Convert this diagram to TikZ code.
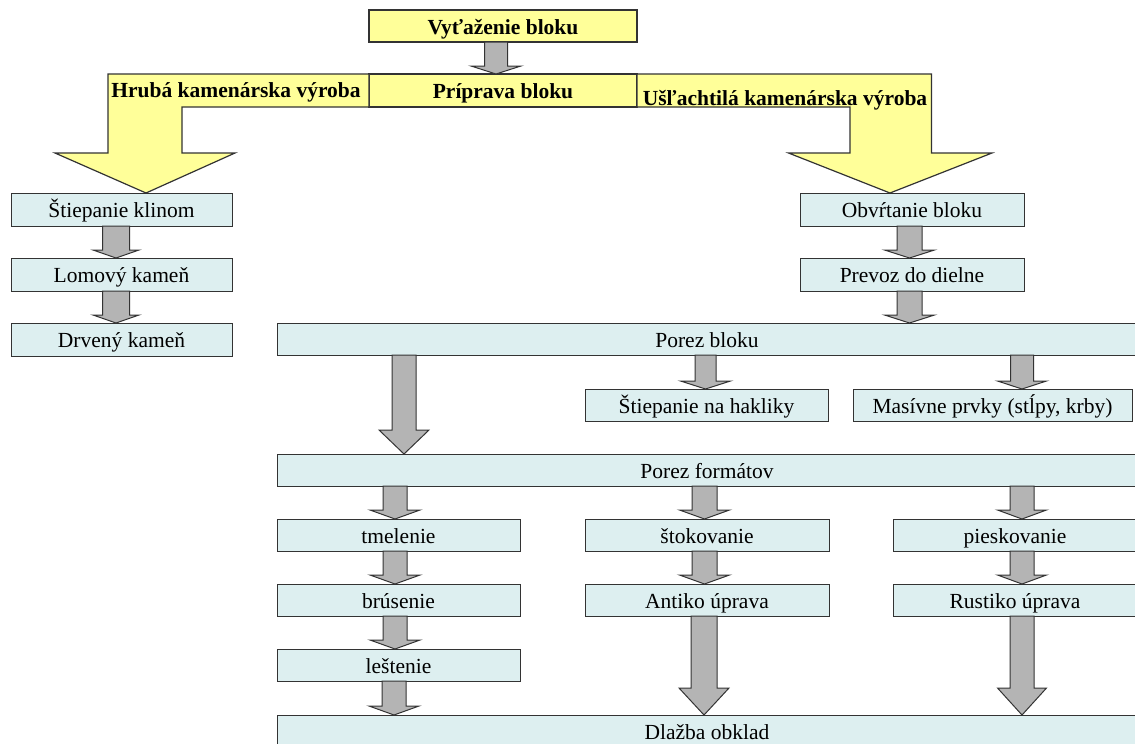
\documentclass[tikz,border=0pt]{standalone}
\usepackage{fontspec}
\setmainfont{Liberation Serif}
\usetikzlibrary{calc}
\definecolor{ylw}{HTML}{FFFF99}
\definecolor{cyn}{HTML}{DDEFF0}
\definecolor{arr}{HTML}{B4B4B4}
\definecolor{edge}{HTML}{333333}
\tikzset{
 ybox/.style={draw=edge, fill=ylw, line width=1.2pt, inner sep=0pt, outer sep=0pt, anchor=north west, text height=17pt, text depth=1pt, font=\fontsize{21.5}{24}\selectfont\bfseries},
 cbox/.style={draw=edge, fill=cyn, line width=1pt, inner sep=0pt, outer sep=0pt, anchor=north west, text height=17pt, text depth=1pt, font=\fontsize{21.5}{24}\selectfont},
 ylabel/.style={inner sep=0pt, text height=17pt, text depth=1pt, font=\fontsize{21.5}{24}\selectfont\bfseries},
 garrow/.style={draw=edge, fill=arr, line width=1pt, line join=miter},
 yarrow/.style={draw=edge, fill=ylw, line width=1.2pt, line join=miter},
}
\newcommand\cb[6]{\node[cbox, minimum width=#4pt, minimum height=#5pt] (#1) at (#2,#3) {#6};}
\newcommand\ga[6]{%
 \draw[garrow] let \p1=(#1.south), \p2=(#2.north) in
   (#3-#4,\y1) -- (#3+#4,\y1) -- (#3+#4,\y2+#6pt) -- (#3+#5,\y2+#6pt) -- (#3,\y2)
   -- (#3-#5,\y2+#6pt) -- (#3-#4,\y2+#6pt) -- cycle;}
\begin{document}
\begin{tikzpicture}[x=1pt,y=-1pt]
\useasboundingbox (0,0) rectangle (1135,744);
% yellow boxes
\node[ybox, minimum width=268pt, minimum height=32pt] (vyt) at (369,10) {Vyťaženie bloku};
\node[ybox, minimum width=268pt, minimum height=33pt] (pri) at (369,74) {Príprava bloku};
% blue boxes
\cb{stk}{11}{193}{221}{33}{Štiepanie klinom}
\cb{lom}{11}{258}{221}{33}{Lomový kameň}
\cb{drv}{11}{323}{221}{33}{Drvený kameň}
\cb{obv}{800}{193}{224}{33}{Obvŕtanie bloku}
\cb{prv}{800}{258}{224}{33}{Prevoz do dielne}
\cb{pbl}{277}{323}{860}{32}{Porez bloku}
\cb{hak}{585}{389}{243}{32}{Štiepanie na hakliky}
\cb{mas}{853}{389}{279}{32}{Masívne prvky (stĺpy, krby)}
\cb{pfo}{277}{454}{860}{32}{Porez formátov}
\cb{tme}{277}{519}{243}{32}{tmelenie}
\cb{sto}{585}{519}{244}{32}{štokovanie}
\cb{pie}{893}{519}{244}{32}{pieskovanie}
\cb{bru}{277}{584}{243}{32}{brúsenie}
\cb{ant}{585}{584}{244}{32}{Antiko úprava}
\cb{rus}{893}{584}{244}{32}{Rustiko úprava}
\cb{les}{277}{649}{243}{32}{leštenie}
\cb{dla}{277}{715}{860}{32}{Dlažba obklad}
% bent yellow arrows
\draw[yarrow] (108,74) -- (pri.north west) -- (pri.south west) -- (182,107) -- (182,153)
  -- (235,153) -- (146,0 |- stk.north) -- (55,153) -- (108,153) -- cycle;
\draw[yarrow] (pri.north east) -- (931.5,74) -- (931.5,153) -- (992,153) -- (890,0 |- obv.north)
  -- (788.5,153) -- (850,153) -- (850,107) -- (pri.south east) -- cycle;
\node[ylabel] (hru) at (236,89) {Hrubá kamenárska výroba};
\node[ylabel] (usl) at (785,97) {Ušľachtilá kamenárska výroba};
% gray arrows
\ga{vyt}{pri}{496}{11.5}{25}{8}
\ga{stk}{lom}{116}{13.5}{23}{8}
\ga{lom}{drv}{116}{13.5}{23}{8}
\ga{obv}{prv}{909.5}{12.5}{25}{8}
\ga{prv}{pbl}{909.5}{12.5}{25}{8}
\ga{pbl}{pfo}{404}{12}{25}{24}
\ga{pbl}{hak}{705.5}{10.5}{25}{8}
\ga{pbl}{mas}{1022}{11.5}{24.5}{8}
\ga{pfo}{tme}{395}{12}{25}{9}
\ga{tme}{bru}{395}{12}{25}{9}
\ga{bru}{les}{395}{12}{25}{9}
\ga{les}{dla}{394}{12}{25}{9}
\ga{pfo}{sto}{704.5}{12.5}{25}{9}
\ga{sto}{ant}{704.5}{12.5}{25}{9}
\ga{ant}{dla}{704}{13}{25}{27}
\ga{pfo}{pie}{1022}{12}{24.5}{9}
\ga{pie}{rus}{1022}{12}{24.5}{9}
\ga{rus}{dla}{1022}{12}{24.5}{27}
\end{tikzpicture}
\end{document}
